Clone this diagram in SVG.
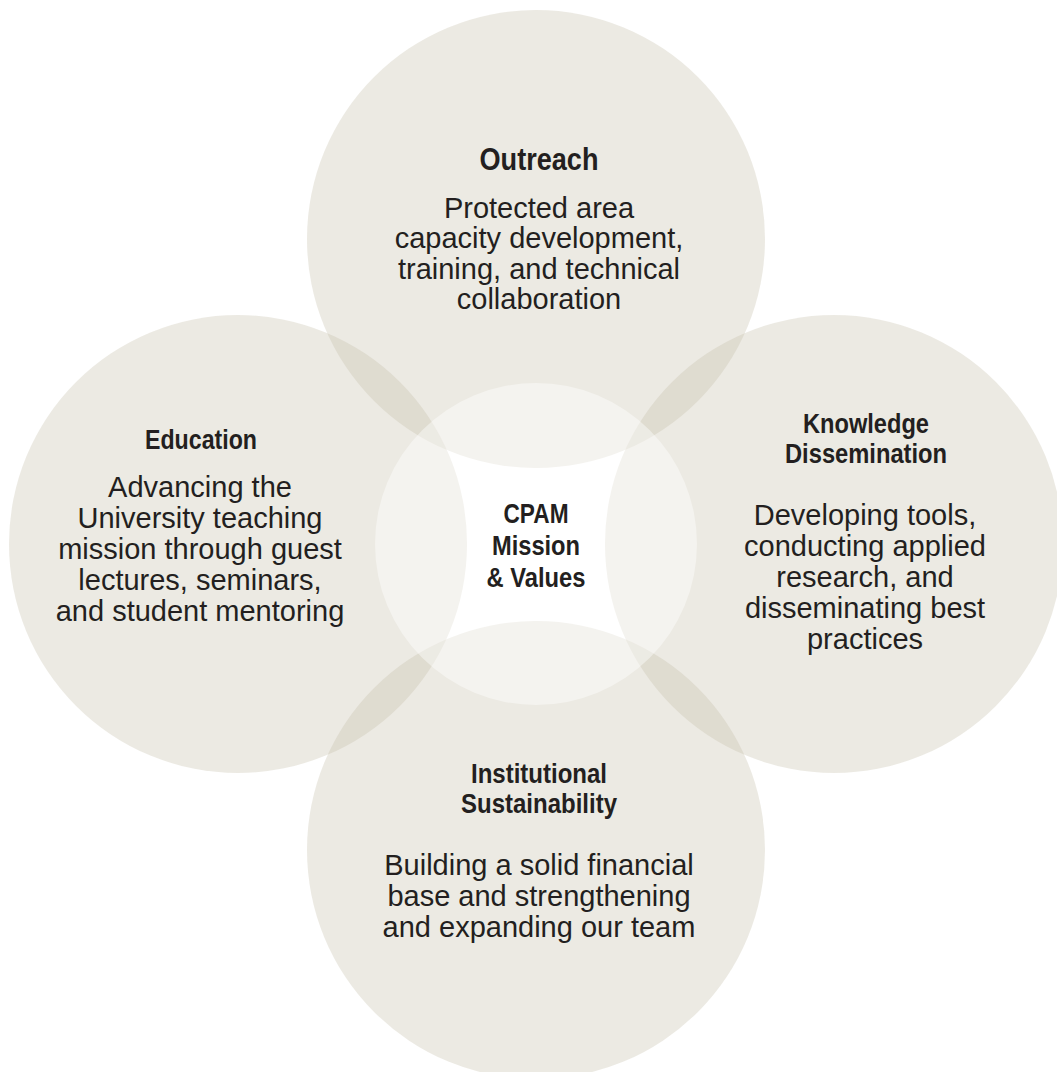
<svg xmlns="http://www.w3.org/2000/svg" width="1057" height="1072" viewBox="0 0 1057 1072">
<style>
.c{fill:#C4BDA7;fill-opacity:0.32}
.core{fill:#FFFFFF;fill-opacity:0.42}
.t{font-family:"Liberation Sans",Arial,sans-serif;font-weight:bold;font-size:28px;fill:#231F20;text-anchor:middle}
.b{font-family:"Liberation Sans",Arial,sans-serif;font-size:29px;fill:#231F20;text-anchor:middle}
</style>
<rect width="1057" height="1072" fill="#FFFFFF"/>
<g id="outreach">
<circle class="c" cx="536" cy="239" r="229"/>
</g>
<g id="education">
<circle class="c" cx="238" cy="544" r="229"/>
</g>
<g id="knowledge">
<circle class="c" cx="834" cy="544" r="229"/>
</g>
<g id="sustainability">
<circle class="c" cx="536" cy="850" r="229"/>
</g>
<g id="core">
<circle class="core" cx="536" cy="544" r="161"/>
</g>
<g id="connectors"></g>
<g id="outreach-text">
<text class="t" x="539" y="170" style="font-size:32px" textLength="119" lengthAdjust="spacingAndGlyphs">Outreach</text>
<text class="b" x="539" y="218">Protected area</text>
<text class="b" x="539" y="248">capacity development,</text>
<text class="b" x="539" y="279">training, and technical</text>
<text class="b" x="539" y="309">collaboration</text>
</g>
<g id="education-text">
<text class="t" x="201" y="449" textLength="112" lengthAdjust="spacingAndGlyphs">Education</text>
<text class="b" x="200" y="497">Advancing the</text>
<text class="b" x="200" y="528">University teaching</text>
<text class="b" x="200" y="559">mission through guest</text>
<text class="b" x="200" y="590">lectures, seminars,</text>
<text class="b" x="200" y="621">and student mentoring</text>
</g>
<g id="knowledge-text">
<text class="t" x="866" y="433" textLength="126" lengthAdjust="spacingAndGlyphs">Knowledge</text>
<text class="t" x="866" y="463" textLength="162" lengthAdjust="spacingAndGlyphs">Dissemination</text>
<text class="b" x="865" y="525">Developing tools,</text>
<text class="b" x="865" y="556">conducting applied</text>
<text class="b" x="865" y="587">research, and</text>
<text class="b" x="865" y="618">disseminating best</text>
<text class="b" x="865" y="649">practices</text>
</g>
<g id="sustainability-text">
<text class="t" x="539" y="783" textLength="136" lengthAdjust="spacingAndGlyphs">Institutional</text>
<text class="t" x="539" y="813" textLength="156" lengthAdjust="spacingAndGlyphs">Sustainability</text>
<text class="b" x="539" y="875">Building a solid financial</text>
<text class="b" x="539" y="906">base and strengthening</text>
<text class="b" x="539" y="937">and expanding our team</text>
</g>
<g id="core-text">
<text class="t" x="536" y="523" textLength="65" lengthAdjust="spacingAndGlyphs">CPAM</text>
<text class="t" x="536" y="555" textLength="88" lengthAdjust="spacingAndGlyphs">Mission</text>
<text class="t" x="536" y="587" textLength="99" lengthAdjust="spacingAndGlyphs">&amp; Values</text>
</g>
</svg>
